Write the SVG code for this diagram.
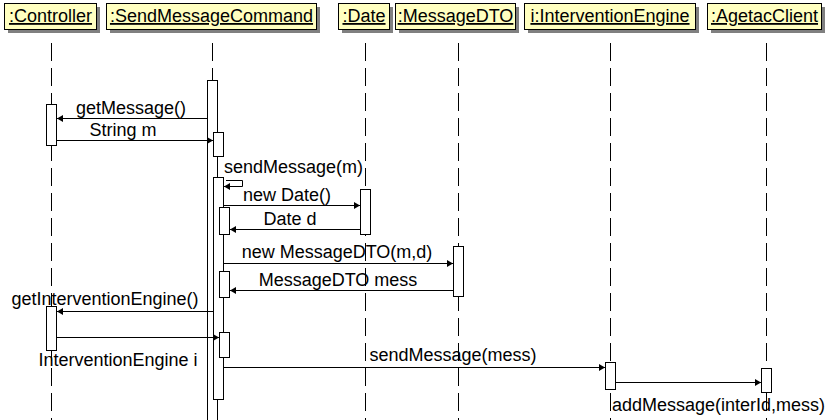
<svg xmlns="http://www.w3.org/2000/svg" width="830" height="420" viewBox="0 0 830 420">
<defs>
<style>
.shadow{fill:#808080}
.hdr{fill:#ffffc0;stroke:#000;stroke-width:1}
.ht{font-family:"Liberation Sans",Arial,sans-serif;font-size:18px;text-decoration:underline;text-anchor:middle;fill:#000}
.life{stroke:#000;stroke-width:1;stroke-dasharray:18 7;fill:none}
.act{fill:#fff;stroke:#000;stroke-width:1}
.msg{stroke:#000;stroke-width:1;fill:none;marker-end:url(#arr)}
.lbl{font-family:"Liberation Sans",Arial,sans-serif;font-size:18px;fill:#000}
.mid{text-anchor:middle}
</style>
<marker id="arr" markerUnits="userSpaceOnUse" markerWidth="8" markerHeight="9" refX="6" refY="4" orient="auto">
<path d="M0,0.5 L6,4 L0,7.5 z" fill="#000"/>
</marker>
</defs>
<rect width="830" height="420" fill="#fff"/>

<g id="lifelines">
<line class="life" x1="51.5" y1="43" x2="51.5" y2="420"/>
<line class="life" x1="212.5" y1="43" x2="212.5" y2="420"/>
<line class="life" x1="365.5" y1="43" x2="365.5" y2="420"/>
<line class="life" x1="458.5" y1="43" x2="458.5" y2="420"/>
<line class="life" x1="610.5" y1="43" x2="610.5" y2="420"/>
<line class="life" x1="766.5" y1="43" x2="766.5" y2="420"/>
</g>

<g id="controller">
<rect class="shadow" x="8" y="7" width="92" height="26"/>
<rect class="hdr" x="4.5" y="3.5" width="92" height="26"/>
<text class="ht" x="50.5" y="22">:Controller</text>
<rect class="act" x="46.5" y="104.5" width="10" height="41"/>
<rect class="act" x="46.5" y="306.5" width="10" height="44"/>
</g>

<g id="sendMessageCommand">
<rect class="shadow" x="110" y="7" width="210" height="26"/>
<rect class="hdr" x="106.5" y="3.5" width="210" height="26"/>
<text class="ht" x="211.5" y="22">:SendMessageCommand</text>
<rect class="act" x="207.5" y="80.5" width="10" height="360"/>
<rect class="act" x="213.5" y="132.5" width="10" height="24"/>
<rect class="act" x="213.5" y="177.5" width="10" height="222"/>
<rect class="act" x="219.5" y="207.5" width="10" height="27"/>
<rect class="act" x="219.5" y="271.5" width="10" height="26"/>
<rect class="act" x="219.5" y="332.5" width="10" height="25"/>
</g>

<g id="date">
<rect class="shadow" x="342" y="7" width="51" height="26"/>
<rect class="hdr" x="338.5" y="3.5" width="51" height="26"/>
<text class="ht" x="364" y="22">:Date</text>
<rect class="act" x="360.5" y="189.5" width="10" height="45"/>
</g>

<g id="messageDTO">
<rect class="shadow" x="399" y="7" width="120" height="26"/>
<rect class="hdr" x="395.5" y="3.5" width="120" height="26"/>
<text class="ht" x="455.5" y="22">:MessageDTO</text>
<rect class="act" x="453.5" y="246.5" width="10" height="50"/>
</g>

<g id="interventionEngine">
<rect class="shadow" x="528" y="7" width="171" height="26"/>
<rect class="hdr" x="524.5" y="3.5" width="171" height="26"/>
<text class="ht" x="610" y="22">i:InterventionEngine</text>
<rect class="act" x="605.5" y="362.5" width="10" height="27"/>
</g>

<g id="agetacClient">
<rect class="shadow" x="711" y="7" width="114" height="26"/>
<rect class="hdr" x="707.5" y="3.5" width="114" height="26"/>
<text class="ht" x="764.5" y="22">:AgetacClient</text>
<rect class="act" x="761.5" y="368.5" width="10" height="24"/>
</g>

<g id="connectors">
<path class="msg" d="M207,118.5 H57"/>
<path class="msg" d="M56,140.5 H213"/>
<path class="msg" d="M226,180.5 H242.5 V186.5 H224"/>
<path class="msg" d="M223,205.5 H360"/>
<path class="msg" d="M360,229.5 H230"/>
<path class="msg" d="M223,263.5 H453"/>
<path class="msg" d="M453,290.5 H230"/>
<path class="msg" d="M213,311.5 H57"/>
<path class="msg" d="M56,337.5 H219"/>
<path class="msg" d="M223,367.5 H605"/>
<path class="msg" d="M615,382.5 H761"/>
<text class="lbl mid" x="131" y="114">getMessage()</text>
<text class="lbl mid" x="123" y="136">String m</text>
<text class="lbl" x="224" y="173">sendMessage(m)</text>
<text class="lbl mid" x="287" y="201">new Date()</text>
<text class="lbl mid" x="290" y="225">Date d</text>
<text class="lbl mid" x="337" y="258">new MessageDTO(m,d)</text>
<text class="lbl mid" x="338" y="286">MessageDTO mess</text>
<text class="lbl mid" x="105" y="305">getInterventionEngine()</text>
<text class="lbl mid" x="118" y="366">InterventionEngine i</text>
<text class="lbl mid" x="453" y="361">sendMessage(mess)</text>
<text class="lbl" x="612" y="411">addMessage(interId,mess)</text>
</g>
</svg>
